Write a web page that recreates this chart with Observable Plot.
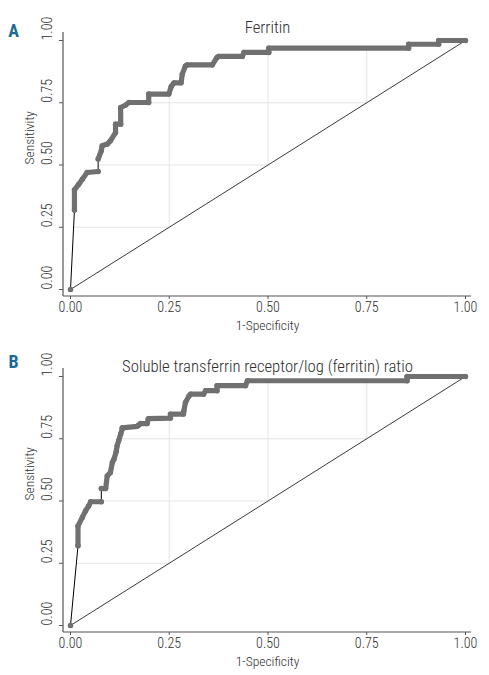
<!DOCTYPE html>
<html><head><meta charset="utf-8">
<script src="https://cdn.jsdelivr.net/npm/d3@7"></script>
<script src="https://cdn.jsdelivr.net/npm/@observablehq/plot@0.6"></script>
<style>
body{margin:0;background:#fff;}
#chart{width:489px;}
#chart svg{display:block;}
#chart svg text{font-stretch:condensed;}
</style></head><body><div id="chart"></div>
<script>
const xTicks = [0, 0.25, 0.5, 0.75, 1];
const yTicks = [0, 0.25, 0.5, 0.75, 1];
const tickLabels = ["0.00", "0.25", "0.50", "0.75", "1.00"];
const gridValues = [0.25, 0.5, 0.75];
const diagonal = [0, 1];
const xLabel = "1-Specificity";
const yLabel = "Sensitivity";
const titleA = "Ferritin";
const titleB = "Soluble transferrin receptor/log (ferritin) ratio";

// ROC points [1-specificity, sensitivity]; each run = stretch of densely packed markers
const ferritinRuns = [
  [[0, 0]],
  [[0.010, 0.319], [0.010, 0.400], [0.021, 0.423], [0.030, 0.443], [0.042, 0.470], [0.070, 0.474]],
  [[0.070, 0.524], [0.078, 0.557], [0.080, 0.577], [0.093, 0.584], [0.101, 0.597], [0.114, 0.630],
   [0.114, 0.664], [0.127, 0.664], [0.127, 0.731], [0.139, 0.740], [0.148, 0.751], [0.198, 0.751],
   [0.198, 0.785], [0.249, 0.785], [0.255, 0.815], [0.262, 0.830], [0.280, 0.830], [0.283, 0.865],
   [0.291, 0.898], [0.295, 0.902], [0.359, 0.902], [0.371, 0.932], [0.375, 0.936], [0.435, 0.936],
   [0.439, 0.952], [0.502, 0.952], [0.502, 0.969], [0.856, 0.969], [0.856, 0.985], [0.932, 0.985],
   [0.932, 1.000], [1.000, 1.000]]
];

const stfrRuns = [
  [[0, 0]],
  [[0.019, 0.320], [0.019, 0.400], [0.030, 0.434], [0.038, 0.460], [0.046, 0.480], [0.051, 0.497], [0.078, 0.497]],
  [[0.078, 0.550], [0.089, 0.550], [0.093, 0.601], [0.101, 0.614], [0.106, 0.655], [0.110, 0.668],
   [0.116, 0.700], [0.118, 0.722], [0.122, 0.742], [0.127, 0.769], [0.131, 0.789], [0.131, 0.794],
   [0.169, 0.800], [0.173, 0.805], [0.177, 0.811], [0.194, 0.811], [0.197, 0.831], [0.253, 0.833],
   [0.253, 0.849], [0.286, 0.849], [0.287, 0.862], [0.291, 0.896], [0.300, 0.922], [0.304, 0.929],
   [0.337, 0.929], [0.342, 0.943], [0.371, 0.943], [0.371, 0.963], [0.443, 0.963], [0.448, 0.983],
   [0.852, 0.983], [0.852, 1.000], [1.000, 1.000]]
];

function curveXAt(pts, v) {
  for (let i = 1; i < pts.length; i++) {
    const a = pts[i - 1], b = pts[i];
    if (a.y < v && b.y >= v) return a.x + (b.x - a.x) * (v - a.y) / (b.y - a.y);
  }
  return v;
}
function curveYAt(pts, v) {
  let y = 0;
  for (let i = 1; i < pts.length; i++) {
    const a = pts[i - 1], b = pts[i];
    if (a.x <= v && b.x > v) return a.y + (b.y - a.y) * (v - a.x) / (b.x - a.x);
    if (b.x <= v) y = b.y;
  }
  return y;
}

const font = "Roboto, 'Open Sans', sans-serif";
const textColor = "#2e2e2e";
const W = 489, H = 336, mL = 63, mR = 18, mT = 32, mB = 40;

function panel(runs, title, letter, titleDy, letterDy) {
  const pts = runs.flat().map(([x, y]) => ({x, y}));
  const runData = runs.flatMap((r, i) => r.map(([x, y]) => ({x, y, run: i})));
  const hGrid = gridValues.map(v => ({x1: curveXAt(pts, v), x2: v, y1: v, y2: v}));
  const vGrid = gridValues.map(v => ({x1: v, x2: v, y1: v, y2: curveYAt(pts, v)}));
  const fmt = d => tickLabels[xTicks.indexOf(d)];
  const chart = Plot.plot({
    width: W, height: H,
    marginLeft: mL, marginRight: mR, marginTop: mT, marginBottom: mB,
    style: {fontFamily: font, fontSize: "14px", color: textColor, background: "#fff"},
    x: {domain: [0, 1], insetLeft: 7, insetRight: 6},
    y: {domain: [0, 1], insetTop: 8, insetBottom: 7},
    marks: [
      Plot.link(hGrid, {x1: "x1", x2: "x2", y1: "y1", y2: "y2", stroke: "#e4e4e4", strokeWidth: 1}),
      Plot.link(vGrid, {x1: "x1", x2: "x2", y1: "y1", y2: "y2", stroke: "#e4e4e4", strokeWidth: 1}),
      Plot.line(diagonal, {x: d => d, y: d => d, stroke: "#3a3a3a", strokeWidth: 1}),
      Plot.line(pts, {x: "x", y: "y", stroke: "#000", strokeWidth: 1}),
      Plot.line(runData, {x: "x", y: "y", z: "run", stroke: "#707070", strokeWidth: 5.2, strokeLinecap: "round", strokeLinejoin: "round"}),
      Plot.dot(pts, {x: "x", y: "y", r: 2.7, fill: "#707070"}),
      Plot.axisX(xTicks, {tickSize: 3, tickPadding: 3, tickFormat: fmt, label: null, stroke: "#555", fontSize: 14, fontWeight: 300}),
      Plot.axisY(yTicks, {tickSize: 4, tickFormat: () => "", label: null, stroke: "#555"}),
      Plot.text(yTicks, {y: d => d, text: fmt, frameAnchor: "left", dx: -16, rotate: -90, fontSize: 14, fontWeight: 300, fill: textColor}),
      Plot.text([xLabel], {frameAnchor: "bottom", dy: 33, fontSize: 13.5, fontWeight: 300, fill: textColor}),
      Plot.text([yLabel], {frameAnchor: "left", dx: -34, rotate: -90, fontSize: 13.5, fontWeight: 300, fill: textColor}),
      Plot.text([title], {frameAnchor: "top", dy: titleDy, fontSize: 16.7, fontWeight: 300, fill: textColor}),
      Plot.text([letter], {frameAnchor: "top-left", dx: -50, dy: letterDy, fontSize: 18, fontWeight: "bold", fill: "#1d6b93", textAnchor: "middle"})
    ]
  });
  const svg = d3.select(chart);
  svg.append("line").attr("x1", mL).attr("x2", mL).attr("y1", mT).attr("y2", H - mB)
    .attr("stroke", "#555").attr("stroke-width", 1.2);
  svg.append("line").attr("x1", mL).attr("x2", W - mR).attr("y1", H - mB).attr("y2", H - mB)
    .attr("stroke", "#555").attr("stroke-width", 1.2);
  return chart;
}

const el = document.getElementById("chart");
el.append(panel(ferritinRuns, titleA, "A", -11.5, -8.5));
el.append(panel(stfrRuns, titleB, "B", -8.5, -13));
</script></body></html>
